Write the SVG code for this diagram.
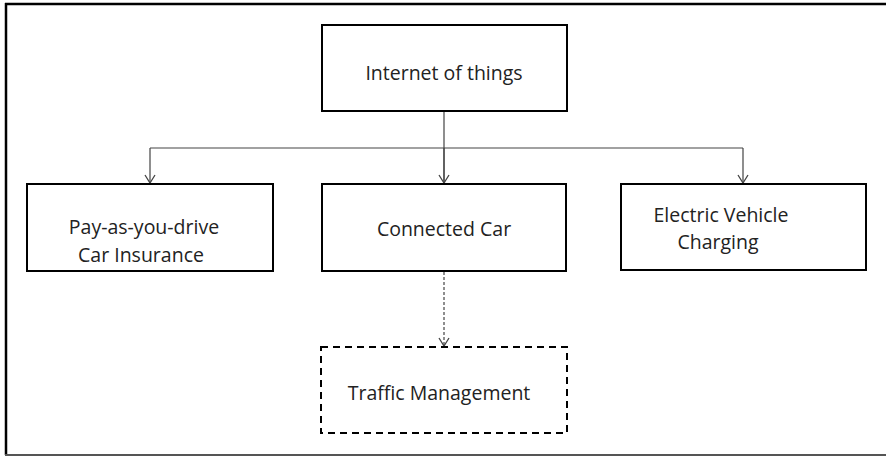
<svg xmlns="http://www.w3.org/2000/svg" width="886" height="456" viewBox="0 0 886 456">
<style>
.box{fill:#fff;stroke:#000;stroke-width:2}
.dash{fill:#fff;stroke:#000;stroke-width:2;stroke-dasharray:7,5}
.t{font-family:"Open Sans","Liberation Sans",sans-serif;font-size:19.5px;fill:#222;text-anchor:middle}
.c{fill:none;stroke:#444;stroke-width:1.2}
</style>
<defs>
<marker id="ar" markerWidth="12" markerHeight="12" refX="10" refY="6" orient="auto" markerUnits="userSpaceOnUse" viewBox="0 0 12 12">
<path d="M2,1 L10,6 L2,11" fill="none" stroke="#444" stroke-width="1.3"/>
</marker>
</defs>
<rect width="886" height="456" fill="#fff"/>
<g id="frame">
<line x1="5" y1="4" x2="886" y2="4" stroke="#000" stroke-width="2.5"/>
<line x1="6" y1="3" x2="6" y2="455" stroke="#000" stroke-width="2.5"/>
<line x1="5" y1="455" x2="886" y2="455" stroke="#555" stroke-width="2"/>
</g>
<g id="connectors">
<path class="c" d="M444,111 V183"/>
<path class="c" d="M150,148 H743"/>
<path class="c" d="M150,148 V183" marker-end="url(#ar)"/>
<path class="c" d="M444,148 V183" marker-end="url(#ar)"/>
<path class="c" d="M743,148 V183" marker-end="url(#ar)"/>
<path class="c" d="M444,272 V346" stroke-dasharray="3,2" marker-end="url(#ar)"/>
</g>
<g id="iot">
<rect class="box" x="322" y="25" width="245" height="86"/>
<text class="t" x="444" y="80">Internet of things</text>
</g>
<g id="payd">
<rect class="box" x="27" y="184" width="246" height="87"/>
<text class="t" x="144" y="234">Pay-as-you-drive</text>
<text class="t" x="141" y="262">Car Insurance</text>
</g>
<g id="connected">
<rect class="box" x="322" y="184" width="244" height="87"/>
<text class="t" x="444" y="236">Connected Car</text>
</g>
<g id="ev">
<rect class="box" x="621" y="184" width="245" height="86"/>
<text class="t" x="721" y="222">Electric Vehicle</text>
<text class="t" x="718" y="249">Charging</text>
</g>
<g id="traffic">
<rect class="dash" x="321" y="347" width="246" height="86"/>
<text class="t" x="439" y="400">Traffic Management</text>
</g>
</svg>
